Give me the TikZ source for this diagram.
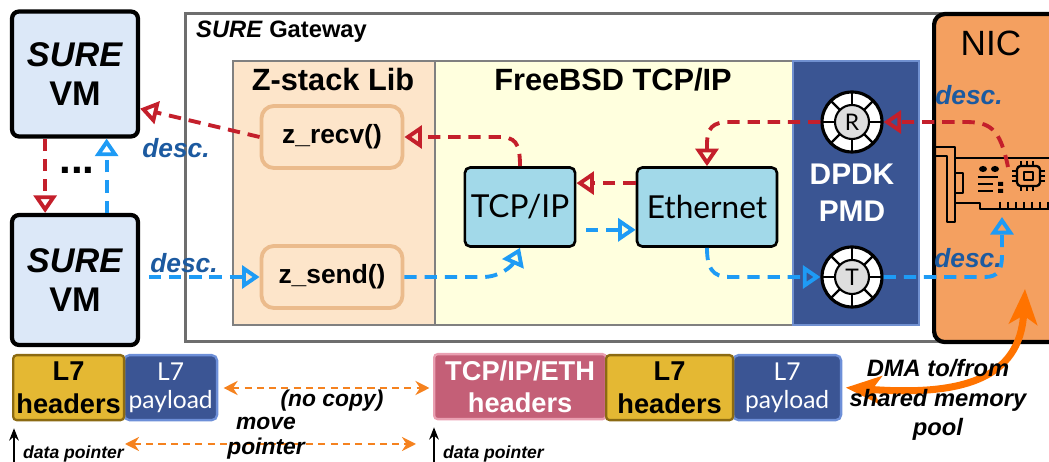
\documentclass[tikz,border=0pt]{standalone}
\usepackage{fontspec}
\setmainfont{Liberation Sans}
\newfontfamily\gillfont{Lato}
\usetikzlibrary{arrows.meta}

\definecolor{rxred}{HTML}{C41F2B}
\definecolor{txblue}{HTML}{1E9BF5}
\definecolor{descblue}{HTML}{1C5AA0}
\definecolor{vmfill}{HTML}{DCE8F8}
\definecolor{zsfill}{HTML}{FDE5CA}
\definecolor{zfborder}{HTML}{EBBB8C}
\definecolor{bsdfill}{HTML}{FFFFDE}
\definecolor{stackfill}{HTML}{A2D9E9}
\definecolor{dpdkfill}{HTML}{3A5593}
\definecolor{dpdkborder}{HTML}{7090D0}
\definecolor{nicfill}{HTML}{F4A060}
\definecolor{hdryellow}{HTML}{E4B833}
\definecolor{hdryellowdk}{HTML}{8B6A12}
\definecolor{payblue}{HTML}{3B5594}
\definecolor{paybluelt}{HTML}{6D8FD8}
\definecolor{hdrpink}{HTML}{C45F77}
\definecolor{hdrpinklt}{HTML}{EAA0B2}
\definecolor{dmaorange}{HTML}{FF7300}
\definecolor{ptrorange}{HTML}{F5821F}
\definecolor{gwgray}{HTML}{6E6E6E}
\definecolor{panelgray}{HTML}{808080}

\tikzset{
  vm/.style={draw, line width=2.4pt, rounded corners=4pt, fill=vmfill, align=center,
    minimum width=2.52cm, font={\fontsize{19.5}{22.7}\selectfont\bfseries}},
  gwframe/.style={draw=gwgray, line width=1.8pt, fill=white},
  panel/.style={draw=panelgray, line width=1.2pt, minimum height=5.28cm},
  paneltitle/.style={font={\fontsize{17.5}{20}\selectfont\bfseries}},
  zfunc/.style={draw=zfborder, line width=2.2pt, rounded corners=7pt, fill=zsfill,
    minimum width=2.82cm, minimum height=1.24cm, font={\fontsize{15}{18}\selectfont\bfseries}},
  layer/.style={draw, line width=1.5pt, rounded corners=3pt, fill=stackfill,
    minimum height=1.58cm, font={\gillfont\fontsize{18}{20}\selectfont}},
  ring/.style={circle, draw, line width=1.8pt, fill=white, minimum size=1.2cm},
  ringcore/.style={circle, draw, line width=1.2pt, fill=black!13, minimum size=0.68cm,
    inner sep=0pt, font={\gillfont\fontsize{13}{13}\selectfont}},
  desc/.style={text=descblue, font={\fontsize{15}{18}\selectfont\bfseries\itshape}},
  flow/.style={line width=2.2pt, dash pattern=on 7pt off 4.5pt,
    -{Triangle[open,length=10pt,width=13pt]}},
  rxflow/.style={flow, draw=rxred},
  txflow/.style={flow, draw=txblue},
  card/.style={line width=1.3pt, line join=round},
  hdr/.style={draw=hdryellowdk, line width=1.3pt, rounded corners=2pt, fill=hdryellow,
    align=center, minimum height=1.3cm, inner sep=0pt,
    font={\fontsize{15.5}{18.5}\selectfont\bfseries}},
  pay/.style={draw=paybluelt, line width=1.3pt, rounded corners=3pt, fill=payblue,
    align=center, text=white, minimum height=1.3cm, inner sep=0pt,
    font={\gillfont\fontsize{14}{16}\selectfont}},
  note/.style={align=center, font={\fontsize{13}{15}\selectfont\bfseries\itshape}},
  copyarrow/.style={draw=ptrorange, line width=1.4pt, dash pattern=on 4pt off 3pt,
    {Stealth[length=8pt,width=8pt]}-{Stealth[length=8pt,width=8pt]}},
  ptr/.style={line width=1pt, -{Stealth[length=7pt,width=5.5pt]}},
}

\begin{document}
\begin{tikzpicture}[x=0.02cm,y=-0.02cm]
  \useasboundingbox (0,0) rectangle (1049,462);

  % the two VMs
  \node[vm, minimum height=2.5cm] at (75,74) (vmtop) {\textit{SURE}\\VM};
  \node[vm, minimum height=2.6cm] at (75,280) (vmbot) {\textit{SURE}\\VM};
  \node[font={\fontsize{24}{24}\selectfont\bfseries}] at (77,170) (dots) {...};

  % gateway with its three layers
  \node[gwframe, anchor=north west, minimum width=15.22cm, minimum height=6.56cm] at (184,12) (gw) {};
  \node[anchor=west, font={\fontsize{13.5}{16}\selectfont\bfseries}] at (190,32) (gwname) {\textit{SURE} Gateway};
  \node[panel, fill=zsfill, anchor=north west, minimum width=4.04cm] at (232,60) (zstack) {};
  \node[panel, fill=bsdfill, anchor=north west, minimum width=7.16cm] at (434,60) (bsd) {};
  \node[panel, draw=dpdkborder, fill=dpdkfill, anchor=north west, minimum width=2.52cm] at (792,60) (dpdk) {};
  \node[paneltitle] at (333,80) (zstitle) {Z-stack Lib};
  \node[paneltitle] at (613,80) (bsdtitle) {FreeBSD TCP/IP};
  \node[text=white, align=center, font={\fontsize{17}{21}\selectfont\bfseries}] at (852,193) (pmd) {DPDK\\PMD};

  \node[zfunc] at (332,137) (zrecv) {z\_recv()};
  \node[zfunc] at (332,277) (zsend) {z\_send()};
  \node[layer, minimum width=2.2cm] at (520,207) (tcpip) {TCP/IP};
  \node[layer, minimum width=2.8cm] at (707,207) (eth) {Ethernet};

  % rx / tx rings
  \node[ring] at (852,122) (rxq) {};
  \node[ring] at (852,277) (txq) {};
  \foreach \q in {rxq,txq}
    \foreach \a in {0,45,...,315}
      \draw[line width=1.4pt] (\q.center) ++(\a:0.33cm) -- ++(\a:0.27cm);
  \node[ringcore] at (rxq) (rxcore) {R};
  \node[ringcore] at (txq) (txcore) {T};

  % NIC and the card
  \node[draw, line width=2.4pt, rounded corners=6pt, fill=nicfill, anchor=north west,
    minimum width=3cm, minimum height=6.56cm] at (932,12) (nic) {};
  \node[font={\fontsize{20}{20}\selectfont}] at (991,43) (nicname) {NIC};
  \draw[card] (936,147) -- (955,147) -- (955,158) -- (1052,158);
  \draw[card] (936,156) -- (947,156) -- (947,222) -- (955,222) -- (955,158);
  \draw[card] (955,173) -- (963,173) -- (963,193) -- (955,193);
  \draw[card] (955,203) -- (980,203) -- (980,209) -- (1052,209);
  \foreach \tx in {1000,1008,...,1048}
    \draw[card] (\tx,202) -- (\tx,209);
  \fill (983,169) ellipse [x radius=4, y radius=3];
  \fill (995,169) ellipse [x radius=4, y radius=3];
  \draw[card] (978,177) -- (998,177) (978,184) -- (993,184) (978,191) -- (993,191);
  \fill (998,182) rectangle (1003,186) (998,189) rectangle (1003,193);
  \draw[card, rounded corners=2pt] (1017,166) rectangle (1040,186);
  \draw[card] (1024,172) rectangle (1033,180);
  \foreach \px in {1021,1027,1033}
    \draw[card] (\px,161) -- (\px,166) (\px,186) -- (\px,191);
  \foreach \py in {171,176,181}
    \draw[card] (1012,\py) -- (1017,\py) (1040,\py) -- (1045,\py);
  \coordinate (nicrx) at (1008,167);
  \coordinate (nictx) at (1002,217);

  % receive path
  \draw[rxflow] (nicrx) .. controls (1000,128) and (990,122) .. (965,122) -- (rxq.east);
  \draw[rxflow] (rxq.west) -- (730,122) .. controls (712,122) and (707,128) .. (707,145) -- (eth.north);
  \draw[rxflow] ([yshift=13.6pt]eth.west) -- ([yshift=13.6pt]tcpip.east);
  \draw[rxflow] (tcpip.north) .. controls (520,142) and (515,137) .. (498,137) -- (zrecv.east);
  \draw[rxflow] (zrecv.west) -- (vmtop.-28);
  \draw[rxflow] ([xshift=-17pt]vmtop.south) -- ([xshift=-17pt]vmbot.north);

  % transmit path
  \draw[txflow] ([xshift=18pt]vmbot.north) -- ([xshift=18pt]vmtop.south);
  \draw[txflow, shorten <=5pt] (vmbot.east |- zsend.west) -- (zsend.west);
  \draw[txflow] (zsend.east) -- (483,277) .. controls (500,277) and (512,266) .. (tcpip.south);
  \draw[txflow, shorten <=5.5pt] ([yshift=-13pt]tcpip.east) -- ([yshift=-13pt]eth.west);
  \draw[txflow] (eth.south) .. controls (707,268) and (712,277) .. (730,277) -- (txq.west);
  \draw[txflow] (txq.east) -- (985,277) .. controls (998,277) and (1002,270) .. (1002,255) -- (nictx);

  \node[desc] at (176,148) (d1) {desc.};
  \node[desc] at (184,263) (d2) {desc.};
  \node[desc] at (969,95) (d3) {desc.};
  \node[desc] at (968,258) (d4) {desc.};

  % buffers below
  \node[pay, anchor=north west, minimum width=1.86cm] at (123,354) (pay1) {L7\\payload};
  \node[hdr, anchor=north west, minimum width=2.22cm] at (12,354) (hdr1) {L7\\headers};
  \node[hdr, draw=hdrpinklt, fill=hdrpink, text=white, anchor=north west, minimum width=3.44cm] at (433,353) (eth2)
    {TCP/IP/ETH\\headers};
  \node[pay, anchor=north west, minimum width=2.16cm] at (732,354) (pay2) {L7\\payload};
  \node[hdr, anchor=north west, minimum width=2.54cm] at (605,354) (hdr2) {L7\\headers};

  \draw[copyarrow, shorten <=3pt, shorten >=2pt] (pay1.east |- 0,388) -- (eth2.west |- 0,388);
  \node[note] at (332,401) (nocopy) {(no copy)};
  \coordinate (mvfrom) at (125,444);
  \coordinate (mvto) at (416,444);
  \draw[copyarrow, line width=1pt] (mvfrom) -- (mvto);
  \node[note] at (266,438) (move) {move\\[-1pt]pointer};

  \coordinate (dp1) at (14,462);
  \coordinate (dp2) at (434,462);
  \draw[ptr, shorten >=4pt] (dp1) -- (dp1 |- hdr1.south);
  \draw[ptr, shorten >=4pt] (dp2) -- (dp2 |- eth2.south);
  \node[anchor=west, font={\fontsize{10}{12}\selectfont\bfseries\itshape}] at (17,454) (dptext1) {data pointer};
  \node[anchor=west, font={\fontsize{10}{12}\selectfont\bfseries\itshape}] at (437,454) (dptext2) {data pointer};

  % DMA between NIC and the shared pool
  \coordinate (dmatop) at (1025,289);
  \draw[draw=dmaorange, line width=4pt,
    {Stealth[length=20pt,width=16pt,inset=5pt]}-{Stealth[length=20pt,width=16pt,inset=5pt]}]
    (dmatop) .. controls (1020,380) and (960,396) .. ([xshift=2pt]pay2.east);
  \node[note, font={\fontsize{13.5}{17}\selectfont\bfseries\itshape}] at (938,400) (dma) {DMA to/from\\shared memory\\pool};
\end{tikzpicture}
\end{document}
